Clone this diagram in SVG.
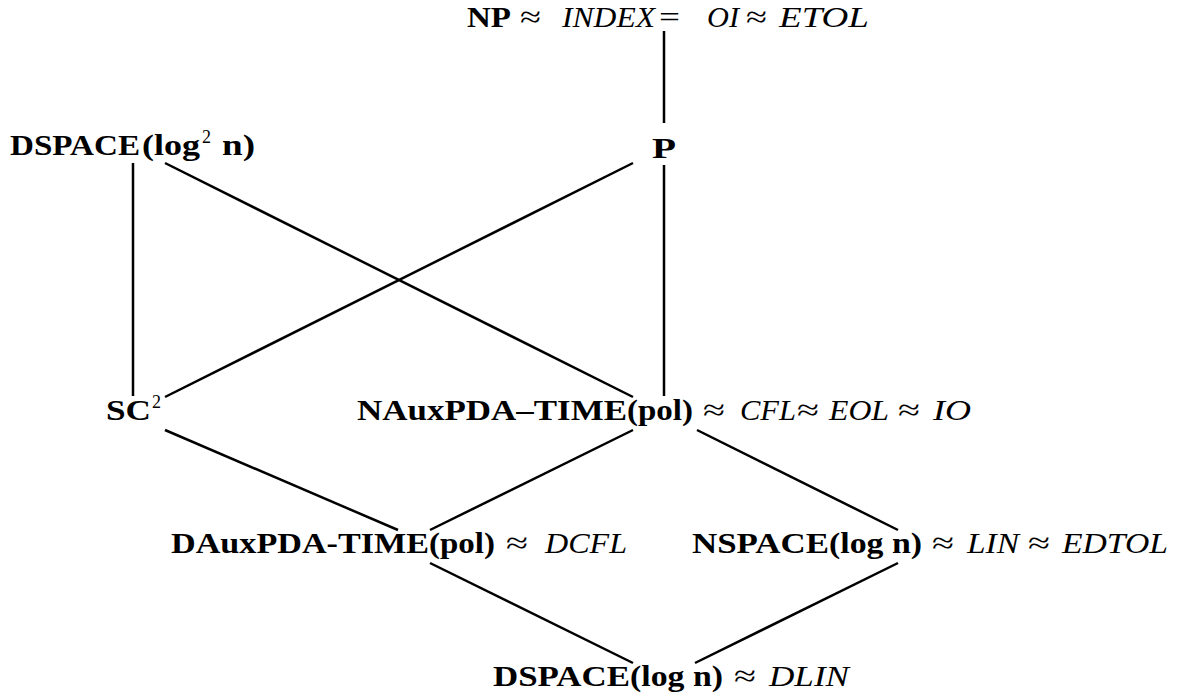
<svg xmlns="http://www.w3.org/2000/svg" width="1179" height="698" viewBox="0 0 1179 698">
<style>
text{font-family:"Liberation Serif","Times New Roman",serif;font-size:30px;fill:#000}
.b{font-weight:bold}
.i{font-style:italic}
.r{font-weight:normal;font-style:normal}
.sup{font-size:18px;font-weight:normal}
.edge{stroke:#000;stroke-width:2.5;fill:none}
</style>
<rect width="1179" height="698" fill="#fff"/>
<g id="connectors" class="edge">
<line x1="664" y1="31" x2="664" y2="123"/>
<line x1="664" y1="165" x2="664" y2="396"/>
<line x1="133" y1="163" x2="133" y2="396"/>
<line x1="165" y1="163" x2="633" y2="397"/>
<line x1="633" y1="163" x2="165" y2="397"/>
<line x1="165" y1="430" x2="398" y2="530"/>
<line x1="633" y1="430" x2="430" y2="530"/>
<line x1="697" y1="430" x2="898" y2="530"/>
<line x1="430" y1="563" x2="633" y2="663"/>
<line x1="898" y1="563" x2="695" y2="663"/>
</g>
<g id="node-np">
<text y="27"><tspan class="b" x="467" textLength="44" lengthAdjust="spacingAndGlyphs">NP</tspan><tspan class="r" x="520" textLength="21" lengthAdjust="spacingAndGlyphs">≈</tspan><tspan class="i" x="562" textLength="93" lengthAdjust="spacingAndGlyphs">INDEX</tspan><tspan class="r" x="659" textLength="21" lengthAdjust="spacingAndGlyphs">=</tspan><tspan class="i" x="707" textLength="32" lengthAdjust="spacingAndGlyphs">OI</tspan><tspan class="r" x="746" textLength="21" lengthAdjust="spacingAndGlyphs">≈</tspan><tspan class="i" x="779" textLength="90" lengthAdjust="spacingAndGlyphs">ETOL</tspan></text>
</g>
<g id="node-dspace-log2">
<text y="155"><tspan class="b" x="10" textLength="130" lengthAdjust="spacingAndGlyphs">DSPACE</tspan><tspan class="b" x="142" textLength="58" lengthAdjust="spacingAndGlyphs">(log</tspan><tspan class="sup" x="202" y="143">2</tspan><tspan class="b" x="222" y="155" textLength="33" lengthAdjust="spacingAndGlyphs">n)</tspan></text>
</g>
<g id="node-p">
<text y="158"><tspan class="b" x="652" textLength="24" lengthAdjust="spacingAndGlyphs">P</tspan></text>
</g>
<g id="node-sc2">
<text y="420"><tspan class="b" x="106" textLength="45" lengthAdjust="spacingAndGlyphs">SC</tspan><tspan class="sup" x="152" y="408">2</tspan></text>
</g>
<g id="node-nauxpda">
<text y="420"><tspan class="b" x="357" textLength="270" lengthAdjust="spacingAndGlyphs">NAuxPDA–TIME</tspan><tspan class="b" x="627" textLength="66" lengthAdjust="spacingAndGlyphs">(pol)</tspan><tspan class="r" x="703" textLength="22" lengthAdjust="spacingAndGlyphs">≈</tspan><tspan class="i" x="740" textLength="56" lengthAdjust="spacingAndGlyphs">CFL</tspan><tspan class="r" x="797" textLength="22" lengthAdjust="spacingAndGlyphs">≈</tspan><tspan class="i" x="829" textLength="60" lengthAdjust="spacingAndGlyphs">EOL</tspan><tspan class="r" x="898" textLength="22" lengthAdjust="spacingAndGlyphs">≈</tspan><tspan class="i" x="933" textLength="38" lengthAdjust="spacingAndGlyphs">IO</tspan></text>
</g>
<g id="node-dauxpda">
<text y="553"><tspan class="b" x="171" textLength="258" lengthAdjust="spacingAndGlyphs">DAuxPDA-TIME</tspan><tspan class="b" x="429" textLength="66" lengthAdjust="spacingAndGlyphs">(pol)</tspan><tspan class="r" x="506" textLength="22" lengthAdjust="spacingAndGlyphs">≈</tspan><tspan class="i" x="545" textLength="82" lengthAdjust="spacingAndGlyphs">DCFL</tspan></text>
</g>
<g id="node-nspace">
<text y="553"><tspan class="b" x="692" textLength="137" lengthAdjust="spacingAndGlyphs">NSPACE</tspan><tspan class="b" x="829" textLength="93" lengthAdjust="spacingAndGlyphs">(log n)</tspan><tspan class="r" x="932" textLength="22" lengthAdjust="spacingAndGlyphs">≈</tspan><tspan class="i" x="967" textLength="52" lengthAdjust="spacingAndGlyphs">LIN</tspan><tspan class="r" x="1028" textLength="22" lengthAdjust="spacingAndGlyphs">≈</tspan><tspan class="i" x="1062" textLength="106" lengthAdjust="spacingAndGlyphs">EDTOL</tspan></text>
</g>
<g id="node-dspace-log">
<text y="686"><tspan class="b" x="493" textLength="137" lengthAdjust="spacingAndGlyphs">DSPACE</tspan><tspan class="b" x="630" textLength="93" lengthAdjust="spacingAndGlyphs">(log n)</tspan><tspan class="r" x="734" textLength="22" lengthAdjust="spacingAndGlyphs">≈</tspan><tspan class="i" x="769" textLength="80" lengthAdjust="spacingAndGlyphs">DLIN</tspan></text>
</g>
</svg>
